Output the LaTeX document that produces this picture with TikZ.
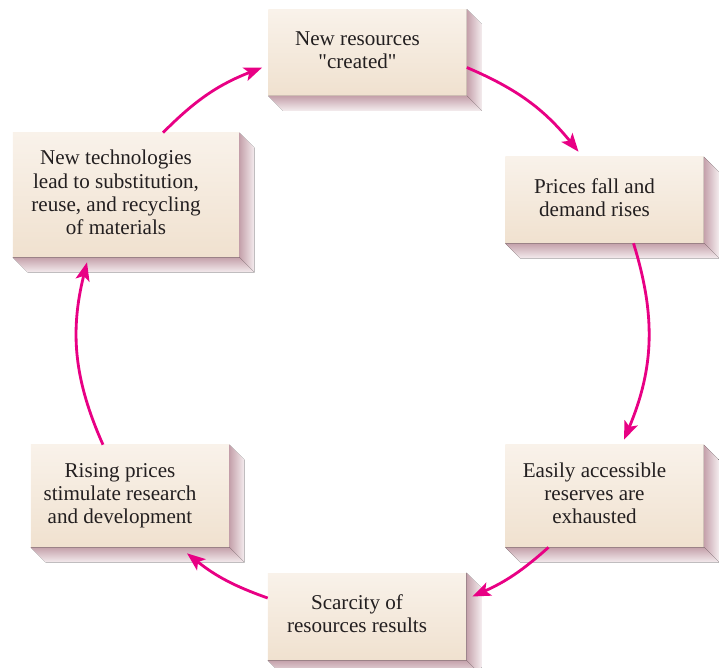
\documentclass[tikz,border=0pt]{standalone}
\usepackage{fontspec}
\setmainfont{Liberation Serif}[Ligatures=TeXOff]
\usepackage{xcolor}
\usetikzlibrary{arrows.meta}
\definecolor{cardtop}{RGB}{249,242,234}
\definecolor{cardbot}{RGB}{240,225,207}
\definecolor{shadedark}{RGB}{196,160,170}
\definecolor{shadelight}{RGB}{244,236,238}
\definecolor{cyclemag}{RGB}{232,0,132}
\definecolor{cardink}{RGB}{35,31,32}
\newcommand{\cardtext}[1]{\begin{tabular}{@{}c@{}}#1\end{tabular}\kern0.5cm\null}

\begin{document}
\begin{tikzpicture}[
  x=0.025cm, y=0.025cm,
  card/.style={inner sep=0pt, minimum width=4.95cm, minimum height=2.15cm, top color=cardtop, bottom color=cardbot, text=cardink, font=\fontsize{15}{16.5}\selectfont},
  cycarrow/.style={-{Stealth[length=13pt, width=10pt, inset=3pt]}, line width=2pt, cyclemag}
]
\useasboundingbox (0,0) rectangle (722,-667);

% Boxes of the cycle
\node[card] (res) at (367.5,-52.5) {\cardtext{New resources\\ "created"}};
\node[card] (fall) at (604.5,-200) {\cardtext{Prices fall and\\ demand rises}};
\node[card, minimum height=2.55cm] (easy) at (604.5,-496) {\cardtext{Easily accessible\\ reserves are\\ exhausted}};
\node[card, minimum height=2.175cm] (scarce) at (367,-616.5) {\cardtext{Scarcity of\\ resources results}};
\node[card, minimum height=2.55cm] (rising) at (130,-496) {\cardtext{Rising prices\\ stimulate research\\ and development}};
\node[card, minimum width=5.65cm, minimum height=3.1cm] (tech) at (126,-195) {\cardtext{New technologies\\ lead to substitution,\\ reuse, and recycling\\ of materials}};

% Extruded shadows
\foreach \n in {res,fall,easy,scarce,rising,tech}{
  \fill[left color=shadedark, right color=shadelight] (\n.north east) -- ++(15,-15) -- ([shift={(15,-15)}]\n.south east) -- (\n.south east) -- cycle;
  \fill[top color=shadedark, bottom color=shadelight] (\n.south west) -- (\n.south east) -- ([shift={(15,-15)}]\n.south east) -- ([shift={(15,-15)}]\n.south west) -- cycle;
}

% Arrows round the circle
\draw[cycarrow] ([shift={(0,-15)}]res.east) to[bend left=14] ([shift={(-26,5)}]fall.north);
\draw[cycarrow] ([shift={(29,0)}]fall.south) to[bend left=20] ([shift={(19.5,5)}]easy.north);
\draw[cycarrow] ([shift={(-56,0)}]easy.south) to[bend left=9] ([shift={(6,20)}]scarce.east);
\draw[cycarrow] ([shift={(0,18.5)}]scarce.west) to[bend left=9.5] ([shift={(57,-6)}]rising.south);
\draw[cycarrow] ([shift={(-27,0)}]rising.north) to[bend left=19] ([shift={(-39,-5)}]tech.south);
\draw[cycarrow] ([shift={(37,0)}]tech.north) to[bend left=12] ([shift={(-6,-15)}]res.west);

\end{tikzpicture}
\end{document}
